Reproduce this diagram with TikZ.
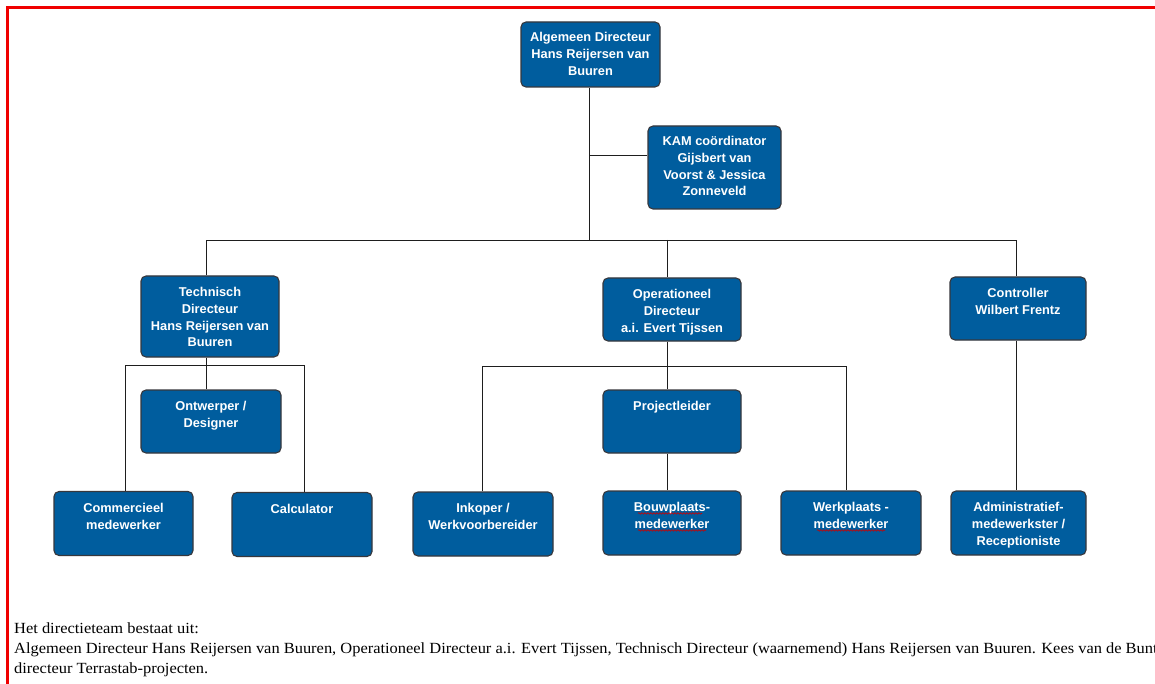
\documentclass[tikz,border=0pt]{standalone}
\usepackage{fontspec}
\setmainfont{Liberation Serif}
\newfontfamily\boxfont{Liberation Sans}
\newfontfamily\bodyfont[FakeStretch=1.06]{Liberation Serif}
\usetikzlibrary{decorations.pathmorphing}
\definecolor{boxblue}{RGB}{0,93,158}
\definecolor{boxedge}{RGB}{55,55,60}
\definecolor{linecol}{RGB}{30,30,30}
\definecolor{pagered}{RGB}{240,0,0}
\tikzset{
  orgbox/.style={draw=boxedge, line width=1.1pt, fill=boxblue, rounded corners=5pt, inner sep=0pt},
  boxtxt/.style={text=white, font=\boxfont\bfseries\fontsize{12.8}{16.6}\selectfont, align=center, inner sep=0pt, anchor=north},
  conn/.style={draw=linecol, line width=0.9pt},
  spell/.style={draw=pagered!85!black, line width=0.6pt, decorate, decoration={snake, amplitude=0.8pt, segment length=3pt}},
  pageframe/.style={draw=pagered, line width=2.2pt},
}
\begin{document}
\begin{tikzpicture}[x=1pt, y=-1pt]
\useasboundingbox (0,0) rectangle (1155,684);
\fill[white] (0,0) rectangle (1155,684);
% red page border
\coordinate (pfb) at (7.5,684);
\coordinate (pfc) at (7.5,7.5);
\coordinate (pfr) at (1155,7.5);
\draw[pageframe] (pfb) -- (pfc) -- (pfr);

% boxes
\node[orgbox, minimum width=139pt, minimum height=65pt] (ad) at (590.5,54.5) {};
\node[orgbox, minimum width=133pt, minimum height=83pt] (kam) at (714.5,167.5) {};
\node[orgbox, minimum width=138pt, minimum height=81pt] (td) at (210,316.5) {};
\node[orgbox, minimum width=138pt, minimum height=63pt] (od) at (672,309.5) {};
\node[orgbox, minimum width=136pt, minimum height=63pt] (co) at (1018,308.5) {};
\node[orgbox, minimum width=140pt, minimum height=63pt] (ow) at (211,421.5) {};
\node[orgbox, minimum width=139pt, minimum height=64pt] (cm) at (123.5,523.5) {};
\node[orgbox, minimum width=140pt, minimum height=64pt] (ca) at (302,524.5) {};
\node[orgbox, minimum width=138pt, minimum height=63pt] (pl) at (672,421.5) {};
\node[orgbox, minimum width=140pt, minimum height=64pt] (ik) at (483,524) {};
\node[orgbox, minimum width=138pt, minimum height=64pt] (bp) at (672,523) {};
\node[orgbox, minimum width=140pt, minimum height=64pt] (wp) at (851,523) {};
\node[orgbox, minimum width=135pt, minimum height=64pt] (am) at (1018.5,523) {};

% box texts
\node[boxtxt] (adt) at ([yshift=-11pt]ad.north) {Algemeen Directeur\\Hans Reijersen van\\Buuren};
\node[boxtxt] (kamt) at ([yshift=-11pt]kam.north) {KAM coördinator\\Gijsbert van\\Voorst \& Jessica\\Zonneveld};
\node[boxtxt] (tdt) at ([yshift=-12pt]td.north) {Technisch\\Directeur\\Hans Reijersen van\\Buuren};
\node[boxtxt] (odt) at ([yshift=-12pt]od.north) {Operationeel\\Directeur\\a.i. Evert Tijssen};
\node[boxtxt] (cot) at ([yshift=-12pt]co.north) {Controller\\Wilbert Frentz};
\node[boxtxt] (owt) at ([yshift=-12pt]ow.north) {Ontwerper /\\Designer};
\node[boxtxt] (cmt) at ([yshift=-12pt]cm.north) {Commercieel\\medewerker};
\node[boxtxt] (cat) at ([yshift=-12pt]ca.north) {Calculator};
\node[boxtxt] (plt) at ([yshift=-12pt]pl.north) {Projectleider};
\node[boxtxt] (ikt) at ([yshift=-12pt]ik.north) {Inkoper /\\Werkvoorbereider};
\node[boxtxt] (bpt) at ([yshift=-12pt]bp.north) {Bouwplaats-\\medewerker};
\node[boxtxt] (wpt) at ([yshift=-12pt]wp.north) {Werkplaats -\\medewerker};
\node[boxtxt] (amt) at ([yshift=-12pt]am.north) {Administratief-\\medewerkster /\\Receptioniste};

% spell-check underlines
\draw[spell] ([xshift=-34pt,yshift=-23pt]bp.north) -- ([xshift=30pt,yshift=-23pt]bp.north);
\draw[spell] ([xshift=-34pt,yshift=-40pt]bp.north) -- ([xshift=34pt,yshift=-40pt]bp.north);
\draw[spell] ([xshift=-34pt,yshift=-40pt]wp.north) -- ([xshift=34pt,yshift=-40pt]wp.north);

% connectors
\coordinate (bar1) at (589,240);
\coordinate (kamj) at (589,155);
\draw[conn] (ad.south -| bar1) -- (bar1);
\draw[conn] (kamj) -- (kamj -| kam.west);
\coordinate (b1l) at (206,240);
\coordinate (b1m) at (667,240);
\coordinate (b1r) at (1016,240);
\draw[conn] (td.north -| b1l) -- (b1l) -- (b1r) -- (co.north -| b1r);
\draw[conn] (b1m) -- (od.north -| b1m);

\coordinate (b2l) at (125,365.5);
\coordinate (b2m) at (206,365.5);
\coordinate (b2r) at (304,365.5);
\draw[conn] (td.south -| b2m) -- (ow.north -| b2m);
\draw[conn] (cm.north -| b2l) -- (b2l) -- (b2r) -- (ca.north -| b2r);

\coordinate (b3l) at (482.5,366);
\coordinate (b3m) at (667,366);
\coordinate (b3r) at (846,366);
\draw[conn] (od.south -| b3m) -- (pl.north -| b3m);
\draw[conn] (ik.north -| b3l) -- (b3l) -- (b3r) -- (wp.north -| b3r);
\draw[conn] (pl.south -| b3m) -- (bp.north -| b3m);

\draw[conn] (co.south -| b1r) -- (am.north -| b1r);

% bottom text
\begin{scope}
\clip (9,590) rectangle (1155,684);
\node[anchor=base west, inner sep=0pt, font=\bodyfont\fontsize{15.5}{20}\selectfont, align=left] (txt) at (14,673)
  {Het directieteam bestaat uit:\\
   Algemeen Directeur Hans Reijersen van Buuren, Operationeel Directeur a.i. Evert Tijssen, Technisch Directeur (waarnemend) Hans Reijersen van Buuren. Kees van de Bunt\\
   directeur Terrastab-projecten.};
\end{scope}
\end{tikzpicture}
\end{document}
